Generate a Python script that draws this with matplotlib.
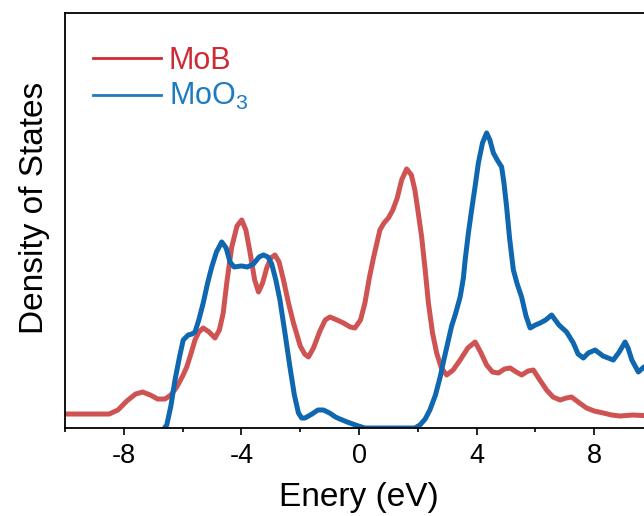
import matplotlib.pyplot as plt
from matplotlib.lines import Line2D

plt.rcParams['font.family'] = ['Liberation Sans', 'DejaVu Sans']
plt.rcParams['mathtext.fontset'] = 'custom'
plt.rcParams['mathtext.rm'] = 'Liberation Sans'
plt.rcParams['mathtext.default'] = 'regular'
plt.rcParams['axes.unicode_minus'] = False

# energy (eV) and density of states (arb. units)
e_mob = [-10.0, -8.5, -8.2, -7.9, -7.6, -7.36, -7.1, -6.85, -6.6, -6.4,
         -6.2, -6.0, -5.86, -5.7, -5.58, -5.45, -5.3, -5.1, -4.9, -4.75,
         -4.62, -4.5, -4.33, -4.15, -3.99, -3.85, -3.71, -3.55, -3.42, -3.28,
         -3.14, -3.0, -2.86, -2.72, -2.57, -2.4, -2.23, -2.0, -1.85, -1.72,
         -1.55, -1.33, -1.15, -0.99, -0.75, -0.53, -0.3, -0.14, 0.05, 0.2,
         0.35, 0.49, 0.71, 0.85, 1.0, 1.15, 1.3, 1.45, 1.62, 1.78,
         1.9, 2.0, 2.13, 2.25, 2.36, 2.5, 2.64, 2.8, 2.98, 3.2,
         3.44, 3.7, 3.95, 4.15, 4.34, 4.54, 4.74, 4.95, 5.14, 5.35,
         5.53, 5.75, 5.93, 6.15, 6.38, 6.6, 6.84, 7.05, 7.23, 7.5,
         7.74, 8.0, 8.31, 8.6, 8.88, 9.3, 10.0]
dos_mob = [0.14, 0.14, 0.18, 0.27, 0.34, 0.36, 0.33, 0.29, 0.29, 0.33,
           0.41, 0.52, 0.61, 0.76, 0.88, 0.96, 1.00, 0.96, 0.90, 0.98,
           1.15, 1.45, 1.81, 2.02, 2.08, 1.98, 1.76, 1.48, 1.36, 1.45,
           1.60, 1.70, 1.73, 1.66, 1.48, 1.25, 1.05, 0.82, 0.74, 0.71,
           0.80, 0.97, 1.08, 1.11, 1.08, 1.05, 1.01, 1.00, 1.08, 1.25,
           1.50, 1.70, 1.98, 2.05, 2.10, 2.18, 2.30, 2.48, 2.59, 2.53,
           2.38, 2.18, 1.91, 1.58, 1.25, 0.95, 0.75, 0.60, 0.53, 0.58,
           0.68, 0.80, 0.86, 0.75, 0.63, 0.56, 0.55, 0.59, 0.60, 0.56,
           0.53, 0.57, 0.58, 0.48, 0.38, 0.31, 0.28, 0.30, 0.31, 0.25,
           0.20, 0.17, 0.15, 0.13, 0.12, 0.13, 0.12]

e_moo3 = [-6.75, -6.54, -6.4, -6.26, -6.1, -5.98, -5.81, -5.68, -5.58, -5.45,
          -5.3, -5.15, -5.01, -4.85, -4.67, -4.52, -4.39, -4.25, -4.0, -3.8,
          -3.59, -3.4, -3.25, -3.1, -2.97, -2.83, -2.69, -2.52, -2.35, -2.2,
          -2.06, -1.95, -1.84, -1.6, -1.4, -1.21, -1.0, -0.8, -0.65, -0.4,
          -0.02, 0.2, 1.9, 2.07, 2.25, 2.41, 2.6, 2.76, 2.9, 3.04,
          3.15, 3.27, 3.44, 3.55, 3.61, 3.72, 3.83, 3.95, 4.06, 4.2,
          4.34, 4.45, 4.57, 4.7, 4.85, 4.93, 5.02, 5.12, 5.25, 5.38,
          5.53, 5.68, 5.82, 6.0, 6.16, 6.35, 6.55, 6.8, 7.06, 7.29,
          7.45, 7.63, 7.8, 8.03, 8.3, 8.65, 8.85, 9.05, 9.15, 9.28,
          9.5, 9.69, 10.0]
dos_moo3 = [-0.05, 0.03, 0.22, 0.48, 0.72, 0.88, 0.93, 0.94, 0.96, 1.08,
            1.25, 1.45, 1.61, 1.76, 1.86, 1.80, 1.66, 1.61, 1.62, 1.61,
            1.64, 1.71, 1.73, 1.71, 1.64, 1.48, 1.28, 0.95, 0.61, 0.33,
            0.15, 0.10, 0.10, 0.14, 0.18, 0.18, 0.15, 0.11, 0.09, 0.06,
            0.02, 0.0, 0.0, 0.03, 0.09, 0.18, 0.33, 0.51, 0.70, 0.88,
            1.02, 1.13, 1.31, 1.50, 1.68, 1.95, 2.18, 2.42, 2.65, 2.85,
            2.95, 2.88, 2.75, 2.68, 2.61, 2.45, 2.21, 1.90, 1.58, 1.44,
            1.31, 1.12, 1.00, 1.03, 1.05, 1.08, 1.13, 1.03, 0.96, 0.85,
            0.74, 0.70, 0.75, 0.78, 0.72, 0.68, 0.76, 0.86, 0.80, 0.68,
            0.56, 0.61, 0.65]

red = '#d05353'
blue = '#0f67b0'

fig = plt.figure(figsize=(6.44, 5.16), dpi=100)
ax = fig.add_axes([0.101, 0.1705, 0.913, 0.8045])

ax.plot(e_mob, dos_mob, color=red, lw=3.6, solid_joinstyle='round', solid_capstyle='round')
ax.plot(e_moo3, dos_moo3, color=blue, lw=3.6, solid_joinstyle='round', solid_capstyle='round')

ax.set_xlim(-10, 10)
ax.set_ylim(0, 4.15)
ax.set_xticks([-8, -4, 0, 4, 8])
ax.set_xticks([-10, -6, -2, 2, 6, 10], minor=True)
ax.set_yticks([])
ax.tick_params(axis='x', which='major', direction='out', length=5, width=1.2, labelsize=19.5, pad=6)
ax.tick_params(axis='x', which='minor', direction='out', length=3, width=1.2)
for s in ax.spines.values():
    s.set_linewidth(1.3)

ax.set_xlabel('Enery (eV)', fontsize=24, labelpad=9)
ax.set_ylabel('Density of States', fontsize=24, labelpad=11)
ax.yaxis.label.set_y(0.53)

# legend
handles = [Line2D([], [], color='#cc2b33', lw=2.0),
           Line2D([], [], color='#1d7cc0', lw=2.0)]
leg = ax.legend(handles, ['MoB', 'MoO$_3$'], loc='upper left', frameon=False,
                fontsize=22, handlelength=2.22, handletextpad=0.26, labelspacing=0.18,
                bbox_to_anchor=(0.027, 0.95), borderaxespad=0)
for t, c in zip(leg.get_texts(), ['#cc2b33', '#1d7cc0']):
    t.set_color(c)

plt.savefig('out.png', dpi=100)
